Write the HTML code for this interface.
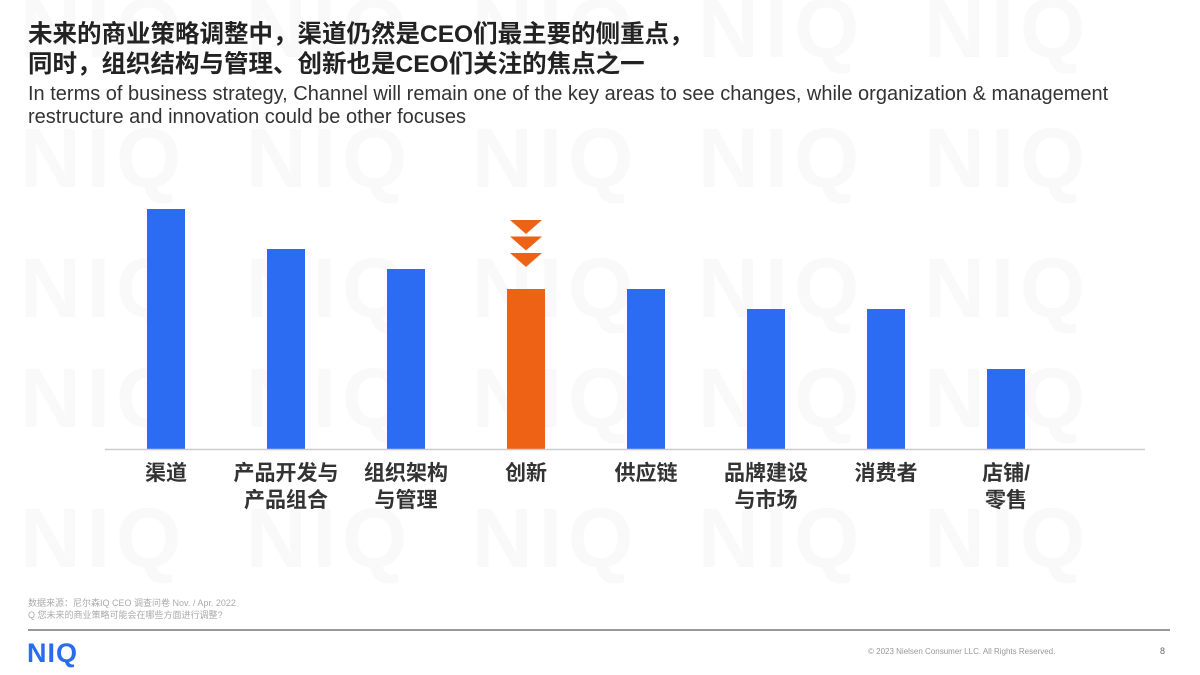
<!DOCTYPE html>
<html><head><meta charset="utf-8">
<style>
body{margin:0;width:1200px;height:675px;overflow:hidden;background:#fff;font-family:"Liberation Sans","Noto Sans CJK SC",sans-serif;position:relative}
.wm{position:absolute;left:0;top:0;width:1200px;height:675px;overflow:hidden}
.wm div{position:absolute;font:bold 84px "Liberation Sans",sans-serif;color:#f9f9f9;white-space:nowrap;letter-spacing:6px}
#t1{position:absolute;left:28px;top:20px;font-size:24.5px;font-weight:bold;color:#222;line-height:30px;white-space:nowrap}
#t2{position:absolute;left:28px;top:83px;font-size:20px;color:#333;line-height:23px;white-space:nowrap}
.src{position:absolute;left:28px;top:597px;font-size:9px;color:#aaa;line-height:12px}
</style></head><body>
<div class="wm">
<div style="left:20px;top:110px">NIQ&nbsp;&nbsp;NIQ&nbsp;&nbsp;NIQ&nbsp;&nbsp;NIQ&nbsp;&nbsp;NIQ</div>
<div style="left:20px;top:240px">NIQ&nbsp;&nbsp;NIQ&nbsp;&nbsp;NIQ&nbsp;&nbsp;NIQ&nbsp;&nbsp;NIQ</div>
<div style="left:20px;top:350px">NIQ&nbsp;&nbsp;NIQ&nbsp;&nbsp;NIQ&nbsp;&nbsp;NIQ&nbsp;&nbsp;NIQ</div>
<div style="left:20px;top:490px">NIQ&nbsp;&nbsp;NIQ&nbsp;&nbsp;NIQ&nbsp;&nbsp;NIQ&nbsp;&nbsp;NIQ</div>
<div style="left:20px;top:-20px">NIQ&nbsp;&nbsp;NIQ&nbsp;&nbsp;NIQ&nbsp;&nbsp;NIQ&nbsp;&nbsp;NIQ</div>
</div>
<div id="t1">未来的商业策略调整中，渠道仍然是CEO们最主要的侧重点，<br>同时，组织结构与管理、创新也是CEO们关注的焦点之一</div>
<div id="t2">In terms of business strategy, Channel will remain one of the key areas to see changes, while organization &amp; management<br>restructure and innovation could be other focuses</div>
<svg id="chart" width="1200" height="675" style="position:absolute;left:0;top:0"></svg>
<div class="src">数据来源：尼尔森IQ CEO 调查问卷 Nov. / Apr. 2022<br>Q 您未来的商业策略可能会在哪些方面进行调整?</div>
<div style="position:absolute;left:28px;top:629px;width:1142px;height:2px;background:#999"></div>
<div style="position:absolute;left:27px;top:638px;font:bold 27px 'Liberation Sans',sans-serif;color:#2a6cf0;letter-spacing:1px">NIQ</div>
<div style="position:absolute;left:868px;top:647px;font-size:8px;color:#999;white-space:nowrap">© 2023 Nielsen Consumer LLC. All Rights Reserved.</div>
<div style="position:absolute;left:1160px;top:646px;font-size:9px;color:#666">8</div>
<script>
const categories=[["渠道"],["产品开发与","产品组合"],["组织架构","与管理"],["创新"],["供应链"],["品牌建设","与市场"],["消费者"],["店铺/","零售"]];
const values=[12,10,9,8,8,7,7,4];
const highlight=[false,false,false,true,false,false,false,false];
const svg=document.getElementById('chart');
const NS='http://www.w3.org/2000/svg';
const base=449, unit=20, x0=166, step=120, bw=38;
const xs=i=>x0+i*step, ys=v=>base-v*unit;
function mk(t,a){const e=document.createElementNS(NS,t);for(const k in a)e.setAttribute(k,a[k]);svg.appendChild(e);return e;}
values.forEach((v,i)=>{
  const r=mk('rect',{x:xs(i)-bw/2,y:ys(v),width:bw,height:v*unit,fill:highlight[i]?'#ee6216':'#2b6cf2'});
  
  
  categories[i].forEach((ln,j)=>{
    const t=mk('text',{x:xs(i),y:480+j*27,'text-anchor':'middle','font-size':'21','font-weight':'bold',fill:'#333','font-family':'Liberation Sans, Noto Sans CJK SC, sans-serif'});
    t.textContent=ln;
    
    
  });
  if(highlight[i]){
    for(let k=0;k<3;k++){
      const y=ys(v)-69+k*16.5;
      const p=mk('polygon',{points:`${xs(i)-16},${y} ${xs(i)+16},${y} ${xs(i)},${y+14}`,fill:'#ee6216'});
      
      
    }
  }
});
const ax=mk('line',{x1:105,x2:1145,y1:base+0.5,y2:base+0.5,stroke:'#ccc','stroke-width':1.5});


</script>
</body></html>
